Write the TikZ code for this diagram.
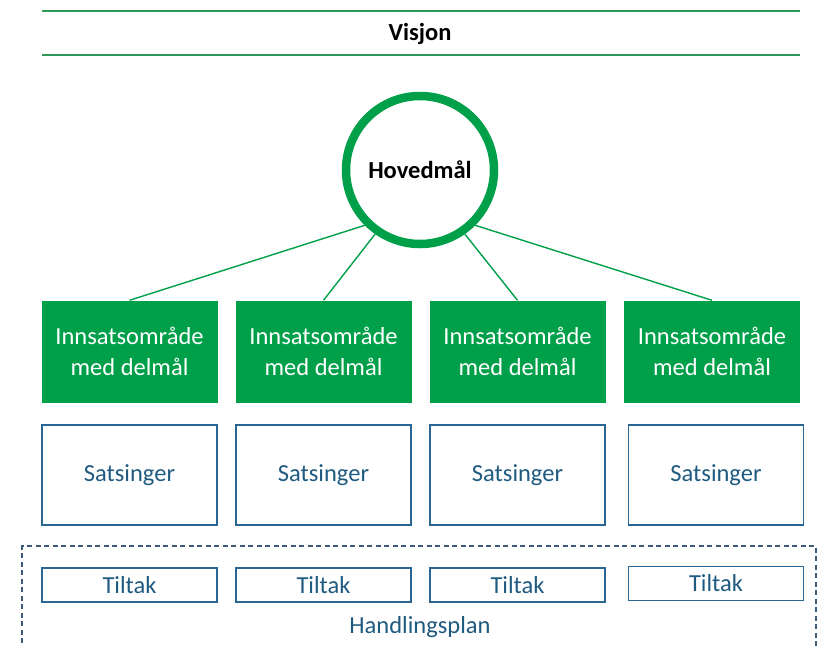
\documentclass[tikz,border=0pt]{standalone}
\usepackage{fontspec}
\setmainfont{Carlito}
\definecolor{gr}{HTML}{00A04A}
\definecolor{lgr}{HTML}{2E9A5A}
\definecolor{bl}{HTML}{2A6694}
\definecolor{blt}{HTML}{1F5A80}
\definecolor{dbl}{HTML}{3E5C78}
\begin{document}
\begin{tikzpicture}[x=1pt,y=-1pt,
  goal/.style={fill=gr,draw=none,minimum width=176pt,minimum height=102pt,text=white,align=center,font=\fontsize{24.5}{31}\selectfont,inner sep=0pt},
  sats/.style={draw=bl,line width=1.4pt,minimum width=175pt,minimum height=100pt,text=blt,font=\fontsize{24.5}{29}\selectfont,inner sep=0pt},
  tilt/.style={draw=bl,line width=1.4pt,minimum width=175pt,minimum height=34pt,text=blt,font=\fontsize{24.5}{29}\selectfont,inner sep=0pt},
  conn/.style={draw=gr,line width=1.4pt},
  hline/.style={draw=lgr,line width=1.8pt}]
\useasboundingbox (0,0) rectangle (821,646);
\coordinate (l1a) at (42,11); \coordinate (l1b) at (800,11);
\coordinate (l2a) at (42,55); \coordinate (l2b) at (800,55);
\draw[hline] (l1a) -- (l1b);
\draw[hline] (l2a) -- (l2b);
\node[font=\bfseries\fontsize{24.5}{29}\selectfont] (vis) at (420,34) {Visjon};
\node[circle,draw=gr,line width=8.5pt,minimum size=148pt,inner sep=0pt,font=\bfseries\fontsize{24.5}{29}\selectfont] (hm) at (420,170) {Hovedmål};
\foreach \i/\x in {1/129.5,2/323.5,3/517.5,4/712}{
  \node[goal] (g\i) at (\x,351.5) {Innsatsområde\\med delmål};
}
\foreach \i/\x in {1/129.5,2/323.5,3/517.5}{
  \node[sats] (s\i) at (\x,475) {Satsinger};
  \node[tilt] (t\i) at (\x,585) {Tiltak};
}
\node[sats] (s4) at (716,475) {Satsinger};
\node[tilt] (t4) at (716,583.5) {Tiltak};
\draw[conn] (hm.225) -- (g1.north);
\draw[conn] (hm.235) -- (g2.north);
\draw[conn] (hm.305) -- (g3.north);
\draw[conn] (hm.315) -- (g4.north);
\coordinate (da) at (22,660); \coordinate (db) at (22,546);
\coordinate (dc) at (816,546); \coordinate (dd) at (816,660);
\draw[dbl,line width=1.3pt,dash pattern=on 5pt off 3.5pt] (da) -- (db) -- (dc) -- (dd);
\node[text=blt,font=\fontsize{24.5}{29}\selectfont] (hp) at (420,627) {Handlingsplan};
\end{tikzpicture}
\end{document}
